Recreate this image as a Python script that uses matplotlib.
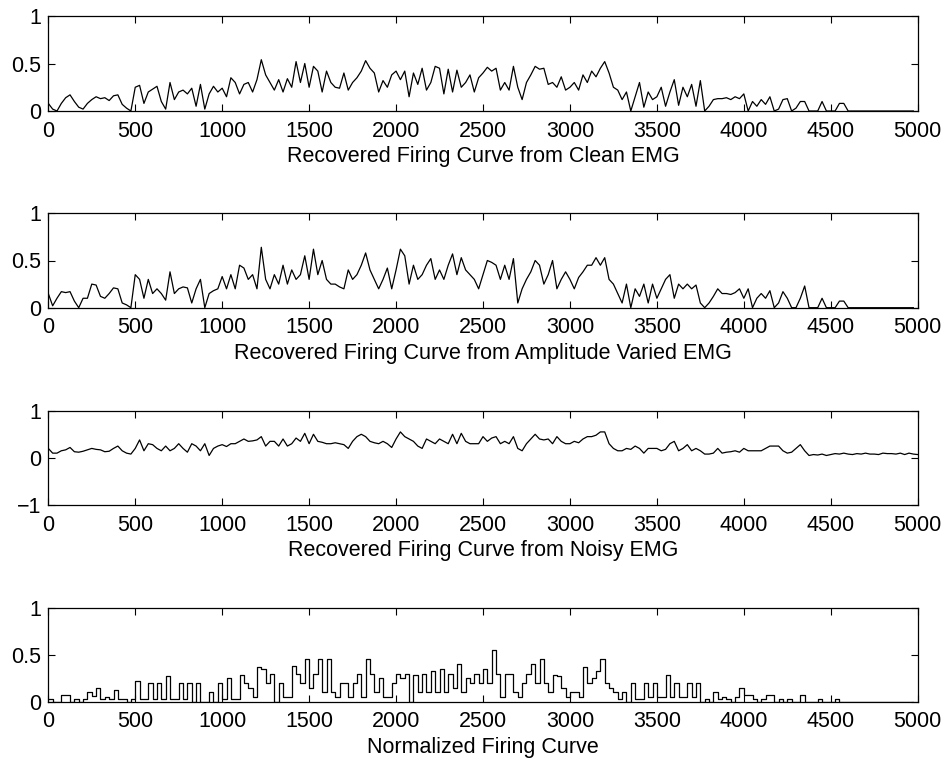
import numpy as np
import matplotlib
matplotlib.use("Agg")
import matplotlib.pyplot as plt

plt.rcParams['font.family'] = ['Liberation Sans', 'DejaVu Sans']

step = 25  # sample spacing of the read-off values

clean = [0.08, 0.02, 0.0, 0.08, 0.14, 0.17, 0.10, 0.04, 0.02, 0.08,
         0.12, 0.15, 0.13, 0.14, 0.11, 0.16, 0.17, 0.07, 0.03, 0.0,
         0.25, 0.27, 0.08, 0.20, 0.23, 0.26, 0.10, 0.02, 0.30, 0.12,
         0.20, 0.22, 0.18, 0.24, 0.05, 0.28, 0.02, 0.18, 0.26, 0.20,
         0.24, 0.15, 0.35, 0.30, 0.18, 0.28, 0.30, 0.20, 0.33, 0.54,
         0.38, 0.30, 0.22, 0.33, 0.20, 0.34, 0.25, 0.52, 0.30, 0.50,
         0.25, 0.47, 0.42, 0.20, 0.42, 0.30, 0.25, 0.24, 0.40, 0.22,
         0.30, 0.35, 0.42, 0.53, 0.45, 0.40, 0.20, 0.32, 0.25, 0.38,
         0.42, 0.33, 0.42, 0.15, 0.40, 0.28, 0.45, 0.22, 0.30, 0.47,
         0.45, 0.18, 0.44, 0.20, 0.43, 0.25, 0.30, 0.38, 0.20, 0.35,
         0.40, 0.46, 0.42, 0.45, 0.22, 0.30, 0.22, 0.47, 0.25, 0.12,
         0.30, 0.38, 0.47, 0.44, 0.45, 0.28, 0.30, 0.25, 0.36, 0.22,
         0.25, 0.30, 0.22, 0.38, 0.30, 0.42, 0.36, 0.45, 0.52, 0.40,
         0.25, 0.22, 0.12, 0.20, 0.0, 0.15, 0.30, 0.04, 0.20, 0.12,
         0.15, 0.25, 0.05, 0.20, 0.33, 0.06, 0.25, 0.15, 0.28, 0.05,
         0.32, 0.0, 0.05, 0.12, 0.13, 0.13, 0.14, 0.12, 0.15, 0.13,
         0.18, 0.0, 0.10, 0.05, 0.12, 0.07, 0.15, 0.0, 0.02, 0.12,
         0.13, 0.0, 0.03, 0.10, 0.10, 0.0, 0.0, 0.0, 0.10, 0.0,
         0.0, 0.0, 0.08, 0.08, 0.0, 0.0, 0.0, 0.0, 0.0, 0.0,
         0.0, 0.0, 0.0, 0.0, 0.0, 0.0, 0.0, 0.0, 0.0, 0.0]

amp_varied = [0.15, 0.02, 0.10, 0.17, 0.16, 0.17, 0.07, 0.0, 0.10, 0.10,
              0.25, 0.24, 0.12, 0.10, 0.15, 0.21, 0.20, 0.05, 0.03, 0.0,
              0.35, 0.30, 0.10, 0.30, 0.15, 0.20, 0.15, 0.08, 0.38, 0.15,
              0.20, 0.22, 0.21, 0.05, 0.20, 0.30, 0.0, 0.15, 0.18, 0.20,
              0.33, 0.20, 0.35, 0.20, 0.45, 0.42, 0.30, 0.35, 0.20, 0.64,
              0.30, 0.20, 0.35, 0.25, 0.45, 0.25, 0.40, 0.30, 0.35, 0.55,
              0.30, 0.62, 0.35, 0.50, 0.30, 0.25, 0.25, 0.22, 0.20, 0.40,
              0.30, 0.35, 0.45, 0.58, 0.40, 0.30, 0.20, 0.30, 0.42, 0.20,
              0.40, 0.62, 0.55, 0.25, 0.45, 0.30, 0.35, 0.45, 0.52, 0.30,
              0.40, 0.30, 0.45, 0.57, 0.35, 0.53, 0.40, 0.35, 0.30, 0.20,
              0.35, 0.50, 0.48, 0.45, 0.30, 0.45, 0.30, 0.52, 0.05, 0.20,
              0.30, 0.38, 0.50, 0.45, 0.25, 0.35, 0.50, 0.20, 0.30, 0.38,
              0.30, 0.20, 0.32, 0.38, 0.45, 0.45, 0.53, 0.45, 0.53, 0.30,
              0.25, 0.15, 0.05, 0.25, 0.0, 0.20, 0.12, 0.25, 0.05, 0.25,
              0.10, 0.20, 0.30, 0.35, 0.10, 0.25, 0.20, 0.25, 0.20, 0.24,
              0.05, 0.0, 0.05, 0.12, 0.20, 0.15, 0.15, 0.14, 0.16, 0.20,
              0.10, 0.20, 0.0, 0.10, 0.15, 0.10, 0.18, 0.0, 0.05, 0.17,
              0.10, 0.0, 0.0, 0.10, 0.23, 0.0, 0.0, 0.0, 0.10, 0.0,
              0.0, 0.0, 0.07, 0.07, 0.0, 0.0, 0.0, 0.0, 0.0, 0.0,
              0.0, 0.0, 0.0, 0.0, 0.0, 0.0, 0.0, 0.0, 0.0, 0.0]

noisy = [0.20, 0.10, 0.10, 0.15, 0.17, 0.22, 0.13, 0.12, 0.14, 0.17,
         0.20, 0.18, 0.17, 0.13, 0.14, 0.20, 0.25, 0.15, 0.10, 0.08,
         0.20, 0.38, 0.15, 0.30, 0.28, 0.20, 0.15, 0.25, 0.15, 0.20,
         0.30, 0.20, 0.12, 0.30, 0.25, 0.15, 0.30, 0.05, 0.20, 0.25,
         0.28, 0.24, 0.30, 0.30, 0.35, 0.40, 0.35, 0.36, 0.38, 0.45,
         0.25, 0.35, 0.35, 0.25, 0.40, 0.25, 0.30, 0.42, 0.35, 0.52,
         0.30, 0.50, 0.35, 0.33, 0.30, 0.30, 0.32, 0.30, 0.28, 0.20,
         0.35, 0.45, 0.50, 0.45, 0.35, 0.32, 0.30, 0.35, 0.30, 0.22,
         0.40, 0.55, 0.45, 0.40, 0.35, 0.25, 0.20, 0.40, 0.35, 0.30,
         0.40, 0.35, 0.30, 0.50, 0.30, 0.52, 0.35, 0.30, 0.30, 0.30,
         0.45, 0.35, 0.42, 0.45, 0.30, 0.35, 0.30, 0.45, 0.20, 0.15,
         0.30, 0.40, 0.50, 0.40, 0.38, 0.40, 0.30, 0.45, 0.35, 0.30,
         0.30, 0.35, 0.32, 0.40, 0.45, 0.45, 0.48, 0.55, 0.55, 0.30,
         0.20, 0.15, 0.15, 0.20, 0.18, 0.25, 0.20, 0.10, 0.20, 0.20,
         0.20, 0.15, 0.18, 0.30, 0.35, 0.15, 0.20, 0.28, 0.15, 0.20,
         0.15, 0.08, 0.08, 0.10, 0.20, 0.10, 0.12, 0.13, 0.15, 0.12,
         0.20, 0.15, 0.15, 0.15, 0.15, 0.20, 0.25, 0.25, 0.25, 0.15,
         0.10, 0.12, 0.20, 0.28, 0.15, 0.05, 0.07, 0.06, 0.08, 0.05,
         0.07, 0.09, 0.08, 0.10, 0.08, 0.07, 0.09, 0.08, 0.10, 0.08,
         0.08, 0.07, 0.10, 0.09, 0.09, 0.08, 0.10, 0.07, 0.10, 0.08,
         0.07]

normalized = [0.03, 0.0, 0.0, 0.07, 0.07, 0.0, 0.03, 0.0, 0.03, 0.10,
              0.06, 0.15, 0.03, 0.05, 0.03, 0.12, 0.03, 0.03, 0.0, 0.03,
              0.22, 0.03, 0.03, 0.20, 0.03, 0.20, 0.03, 0.27, 0.03, 0.03,
              0.20, 0.03, 0.20, 0.0, 0.20, 0.0, 0.0, 0.10, 0.0, 0.20,
              0.03, 0.25, 0.03, 0.03, 0.28, 0.20, 0.15, 0.05, 0.37, 0.35,
              0.20, 0.30, 0.0, 0.20, 0.05, 0.05, 0.38, 0.30, 0.20, 0.45,
              0.15, 0.30, 0.45, 0.10, 0.45, 0.10, 0.05, 0.20, 0.20, 0.05,
              0.20, 0.30, 0.05, 0.45, 0.30, 0.10, 0.25, 0.05, 0.05, 0.20,
              0.30, 0.25, 0.30, 0.0, 0.28, 0.10, 0.30, 0.10, 0.33, 0.10,
              0.35, 0.10, 0.30, 0.15, 0.40, 0.10, 0.25, 0.20, 0.30, 0.20,
              0.35, 0.20, 0.55, 0.30, 0.05, 0.30, 0.30, 0.10, 0.05, 0.20,
              0.30, 0.40, 0.20, 0.45, 0.20, 0.10, 0.28, 0.27, 0.15, 0.05,
              0.10, 0.10, 0.05, 0.37, 0.20, 0.25, 0.33, 0.45, 0.20, 0.15,
              0.10, 0.03, 0.10, 0.0, 0.20, 0.03, 0.03, 0.20, 0.05, 0.20,
              0.05, 0.05, 0.28, 0.05, 0.20, 0.05, 0.05, 0.20, 0.05, 0.20,
              0.0, 0.03, 0.0, 0.10, 0.03, 0.05, 0.03, 0.0, 0.05, 0.15,
              0.07, 0.07, 0.03, 0.0, 0.03, 0.07, 0.07, 0.0, 0.03, 0.0,
              0.03, 0.0, 0.0, 0.07, 0.0, 0.0, 0.0, 0.03, 0.0, 0.0,
              0.0, 0.03, 0.0, 0.0, 0.0, 0.0, 0.0, 0.0, 0.0, 0.0,
              0.0, 0.0, 0.0, 0.0, 0.0, 0.0, 0.0, 0.0, 0.0, 0.0]

titles = ["Recovered Firing Curve from Clean EMG",
          "Recovered Firing Curve from Amplitude Varied EMG",
          "Recovered Firing Curve from Noisy EMG",
          "Normalized Firing Curve"]
xticks = [0, 500, 1000, 1500, 2000, 2500, 3000, 3500, 4000, 4500, 5000]
yticks_pos = [0, 0.5, 1]
yticks_sym = [-1, 0, 1]

fig = plt.figure(figsize=(9.48, 7.64), dpi=100)
W, H = 948, 764
left_px, right_px = 48.3, 917.7
tops = [16, 213.3, 410.7, 607.7]
bots = [111, 307.7, 505, 701.7]

series = [clean, amp_varied, noisy, normalized]
for i, (s, title) in enumerate(zip(series, titles)):
    ax = fig.add_axes([left_px / W, 1 - bots[i] / H,
                       (right_px - left_px) / W, (bots[i] - tops[i]) / H])
    x = np.arange(len(s)) * step
    if i == 3:
        ax.plot(x, s, color='black', lw=0.9, drawstyle='steps-post')
    else:
        ax.plot(x, s, color='black', lw=0.9)
    ax.set_xlim(0, 5000)
    if i == 2:
        ax.set_ylim(-1, 1)
        ax.set_yticks(yticks_sym)
        ax.set_yticklabels(['\u22121', '0', '1'])
    else:
        ax.set_ylim(0, 1)
        ax.set_yticks(yticks_pos)
        ax.set_yticklabels(['0', '0.5', '1'])
    ax.set_xticks(xticks)
    ax.tick_params(direction='in', top=True, right=True, length=5,
                   width=0.8, labelsize=15.5, pad=5)
    ax.tick_params(axis='x', pad=7)
    ax.set_xlabel(title, fontsize=15.5, labelpad=3)
    for sp in ax.spines.values():
        sp.set_linewidth(0.9)

fig.savefig("out.png", dpi=100)
